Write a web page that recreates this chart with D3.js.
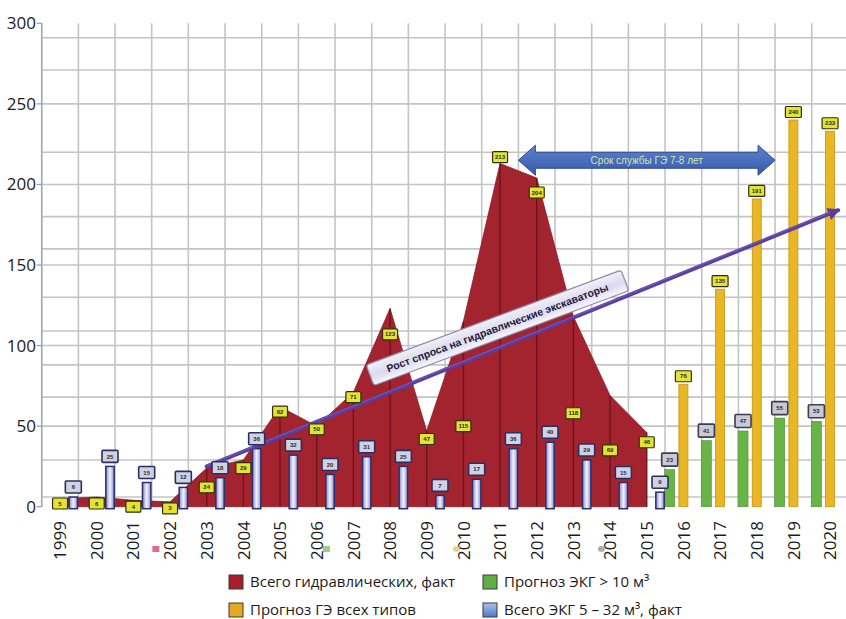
<!DOCTYPE html>
<html>
<head>
<meta charset="utf-8">
<script src="https://cdn.jsdelivr.net/npm/d3@7"></script>
<style>
  html, body { margin: 0; padding: 0; background: #ffffff; }
  svg { display: block; }
</style>
</head>
<body>
<svg id="chart" width="846" height="619"></svg>
<script>
// ---- data ----
const years = [1999, 2000, 2001, 2002, 2003, 2004, 2005, 2006, 2007, 2008, 2009, 2010,
               2011, 2012, 2013, 2014, 2015, 2016, 2017, 2018, 2019, 2020];
const factYears = [1999, 2000, 2001, 2002, 2003, 2004, 2005, 2006, 2007, 2008, 2009, 2010,
                   2011, 2012, 2013, 2014, 2015];
const forecastYears = [2016, 2017, 2018, 2019, 2020];

// Всего гидравлических, факт (area)
const hydraulicFact = [5, 6, 4, 3, 24, 29, 62, 50, 71, 123, 47, 115, 213, 204, 118, 69, 46];
// Всего ЭКГ 5–32 м³, факт (bars)
const ekgFact = [6, 25, 15, 12, 18, 36, 32, 20, 31, 25, 7, 17, 36, 40, 29, 15, 9];
// Прогноз ГЭ всех типов (bars)
const geForecast = [76, 135, 191, 240, 233];
// Прогноз ЭКГ > 10 м³ (bars)
const ekgForecast = [23, 41, 47, 55, 53];

const yTicks = [0, 50, 100, 150, 200, 250, 300];

const legendLabels = ["Всего гидравлических, факт", "Прогноз ЭКГ > 10 м³",
                      "Прогноз ГЭ всех типов", "Всего ЭКГ 5 – 32 м³, факт"];

const trendText = "Рост спроса на гидравлические экскаваторы";
const serviceText = "Срок службы ГЭ 7-8 лет";

// ---- layout ----
const W = 846, H = 619;
const plotTop = 23.3, plotBottom = 506.7, plotLeft = 41.7, plotRight = 848.4;

// where the area's value labels sit (axis units); placed by hand in the source layout
const hydraulicLabelAt = [2, 2, 0, -1, 12, 24, 59, 48, 68, 107, 42, 50, 217, 195, 58, 35, 40];
// background graph-paper lines (axis units)
const paperLines = [6, 29, 50, 68, 88, 100, 109, 130, 150, 160, 180, 200, 220, 250, 271, 291];

const svg = d3.select("#chart");

const x = d3.scaleBand().domain(years).range([plotLeft, plotRight]).padding(0);
const bw = x.bandwidth();
const cx = yr => x(yr) + bw / 2;
const y = d3.scaleLinear().domain([0, 300]).range([plotBottom, plotTop]);

const defs = svg.append("defs");
const blueGrad = defs.append("linearGradient").attr("id", "blueBar")
  .attr("x1", "0%").attr("x2", "100%").attr("y1", "0%").attr("y2", "0%");
blueGrad.append("stop").attr("offset", "0%").attr("stop-color", "#8488cc");
blueGrad.append("stop").attr("offset", "50%").attr("stop-color", "#f3f3fc");
blueGrad.append("stop").attr("offset", "100%").attr("stop-color", "#8a8ed0");

const arrowGrad = defs.append("linearGradient").attr("id", "serviceArrow")
  .attr("x1", "0%").attr("x2", "0%").attr("y1", "0%").attr("y2", "100%");
arrowGrad.append("stop").attr("offset", "0%").attr("stop-color", "#5e83d2");
arrowGrad.append("stop").attr("offset", "100%").attr("stop-color", "#3659a8");

const boxGrad = defs.append("linearGradient").attr("id", "trendBox")
  .attr("x1", "0%").attr("x2", "0%").attr("y1", "0%").attr("y2", "100%");
boxGrad.append("stop").attr("offset", "0%").attr("stop-color", "#f2f1f8");
boxGrad.append("stop").attr("offset", "55%").attr("stop-color", "#dcd8ee");
boxGrad.append("stop").attr("offset", "100%").attr("stop-color", "#f7f7fc");

const legendBlue = defs.append("linearGradient").attr("id", "legendBlue")
  .attr("x1", "0%").attr("x2", "0%").attr("y1", "0%").attr("y2", "100%");
legendBlue.append("stop").attr("offset", "0%").attr("stop-color", "#a9c4ee");
legendBlue.append("stop").attr("offset", "100%").attr("stop-color", "#4d78c8");

defs.append("marker").attr("id", "trendHead")
  .attr("viewBox", "0 0 10 10").attr("refX", 8).attr("refY", 5)
  .attr("markerWidth", 3.2).attr("markerHeight", 3.2).attr("orient", "auto")
  .append("path").attr("d", "M0,0 L10,5 L0,10 Z").attr("fill", "#5a3d9e");

// ---- grid ----
const grid = svg.append("g");
grid.selectAll("line.h").data(paperLines).join("line")
  .attr("x1", plotLeft).attr("x2", plotRight)
  .attr("y1", d => y(d)).attr("y2", d => y(d))
  .attr("stroke", "#c4c4c4").attr("stroke-width", 1.6);
grid.selectAll("line.v").data(years.concat(["end"])).join("line")
  .attr("x1", (d, i) => plotLeft + i * bw).attr("x2", (d, i) => plotLeft + i * bw)
  .attr("y1", plotTop).attr("y2", plotBottom)
  .attr("stroke", "#c4c4c4").attr("stroke-width", 1.6);

// ---- y axis ----
const yAxis = svg.append("g");
yAxis.append("line").attr("x1", plotLeft).attr("x2", plotLeft)
  .attr("y1", plotTop).attr("y2", plotBottom).attr("stroke", "#a8a8a8").attr("stroke-width", 1.4);
yAxis.selectAll("line.t").data(yTicks).join("line")
  .attr("x1", plotLeft - 5).attr("x2", plotLeft)
  .attr("y1", d => y(d)).attr("y2", d => y(d))
  .attr("stroke", "#9a9a9a").attr("stroke-width", 1.2);
yAxis.selectAll("text").data(yTicks).join("text")
  .attr("x", 36).attr("y", d => y(d)).attr("dy", "0.35em")
  .attr("text-anchor", "end")
  .attr("font-family", "Open Sans, sans-serif").attr("font-size", 17)
  .attr("fill", "#1b1b1b").text(d => d);

// ---- red area: всего гидравлических ----
const factData = factYears.map((yr, i) => ({ year: yr, v: hydraulicFact[i], at: hydraulicLabelAt[i] }));
const area = d3.area().x(d => cx(d.year)).y0(y(0)).y1(d => y(d.v));
svg.append("path").datum(factData).attr("d", area)
  .attr("fill", "#a3242f").attr("stroke", "#8e1c26").attr("stroke-width", 0.8);
svg.append("g").selectAll("line").data(factData).join("line")
  .attr("x1", d => cx(d.year)).attr("x2", d => cx(d.year))
  .attr("y1", d => y(d.v)).attr("y2", y(0))
  .attr("stroke", "#5c0f16").attr("stroke-width", 1.4).attr("stroke-opacity", 0.75);

// ---- bars ----
const barW = 9;
const blueOff = 13.3, greenOff = -13.7;
const ekgData = factYears.map((yr, i) => ({ year: yr, v: ekgFact[i] }));
const geData = forecastYears.map((yr, i) => ({ year: yr, v: geForecast[i] }));
const greenData = forecastYears.map((yr, i) => ({ year: yr, v: ekgForecast[i] }));

svg.append("g").selectAll("rect").data(greenData).join("rect")
  .attr("x", d => cx(d.year) + greenOff - 5).attr("width", 10)
  .attr("y", d => y(d.v)).attr("height", d => y(0) - y(d.v))
  .attr("fill", "#69b447").attr("stroke", "#4f8f34").attr("stroke-width", 0.6);

svg.append("g").selectAll("rect").data(geData).join("rect")
  .attr("x", d => cx(d.year) - barW / 2).attr("width", barW)
  .attr("y", d => y(d.v)).attr("height", d => y(0) - y(d.v))
  .attr("fill", "#e9b625").attr("stroke", "#c79410").attr("stroke-width", 0.8);

svg.append("g").selectAll("rect").data(ekgData).join("rect")
  .attr("x", d => cx(d.year) + blueOff - 4.2).attr("width", 8.4)
  .attr("y", d => y(d.v)).attr("height", d => y(0) - y(d.v) + 2)
  .attr("fill", "url(#blueBar)").attr("stroke", "#2d3070").attr("stroke-width", 1.5);

// ---- trend arrow ----
const trendFrom = [cx(2003), y(25)];
const trendTo = [cx(2020) + 0.22 * bw, y(184)];
svg.append("line")
  .attr("x1", trendFrom[0]).attr("y1", trendFrom[1])
  .attr("x2", trendTo[0]).attr("y2", trendTo[1])
  .attr("stroke", "#5a3d9e").attr("stroke-width", 4).attr("stroke-linecap", "round")
  .attr("marker-end", "url(#trendHead)");
svg.append("line")
  .attr("x1", trendFrom[0]).attr("y1", trendFrom[1] - 1)
  .attr("x2", trendTo[0] - 8).attr("y2", trendTo[1] + 2.3)
  .attr("stroke", "#8a6fd0").attr("stroke-width", 1).attr("stroke-opacity", 0.6);

// ---- value labels ----
function labelBox(g, cxp, cyp, w, h, fill, stroke, sw, txt) {
  g.append("rect").attr("x", cxp - w / 2).attr("y", cyp - h / 2)
    .attr("width", w).attr("height", h).attr("rx", 1)
    .attr("fill", fill).attr("stroke", stroke).attr("stroke-width", sw);
  g.append("text").attr("x", cxp).attr("y", cyp).attr("dy", "0.35em")
    .attr("text-anchor", "middle").attr("font-family", "Liberation Sans, Arial, sans-serif")
    .attr("font-size", 6).attr("font-weight", "bold").attr("fill", "#2a2a2a").text(txt);
}
const labels = svg.append("g");
factData.forEach(d => labelBox(labels, cx(d.year), y(d.at), 15, 11, "#e3e332", "#2e2e14", 1.2, d.v));
ekgData.forEach(d => labelBox(labels, cx(d.year) + blueOff, y(d.v) - 10, 16, 12, "#cfd1e4", "#2c2f5e", 1.6, d.v));
greenData.forEach(d => labelBox(labels, cx(d.year) + greenOff, y(d.v) - 10, 16, 13, "#c9cad6", "#3b3d52", 1.6, d.v));
geData.forEach(d => labelBox(labels, cx(d.year), y(d.v) - 8, 16, 11, "#e3e332", "#2e2e14", 1.2, d.v));

// ---- trend caption box ----
const tBoxCx = cx(2011) - 0.07 * bw, tBoxCy = y(111);
const tBox = svg.append("g").attr("transform", `translate(${tBoxCx},${tBoxCy}) rotate(-20.4)`);
tBox.append("rect").attr("x", -136).attr("y", -11).attr("width", 272).attr("height", 22).attr("rx", 3)
  .attr("fill", "url(#trendBox)").attr("stroke", "#8e8ca8").attr("stroke-width", 1.2);
tBox.append("text").attr("x", 0).attr("y", 0).attr("dy", "0.35em").attr("text-anchor", "middle")
  .attr("font-family", "Liberation Sans, Arial, sans-serif").attr("font-size", 10.5)
  .attr("font-weight", "bold").attr("fill", "#1d1d3a").text(trendText);

// ---- service life double arrow ----
const sL = x(2012), sR = x(2019), sY = y(215);
const head = 17, headH = 15, bodyH = 8;
const sPath = d3.path();
sPath.moveTo(sL, sY);
sPath.lineTo(sL + head, sY - headH);
sPath.lineTo(sL + head, sY - bodyH);
sPath.lineTo(sR - head, sY - bodyH);
sPath.lineTo(sR - head, sY - headH);
sPath.lineTo(sR, sY);
sPath.lineTo(sR - head, sY + headH);
sPath.lineTo(sR - head, sY + bodyH);
sPath.lineTo(sL + head, sY + bodyH);
sPath.lineTo(sL + head, sY + headH);
sPath.closePath();
svg.append("path").attr("d", sPath.toString())
  .attr("fill", "url(#serviceArrow)").attr("stroke", "#2d4a8e").attr("stroke-width", 1);
svg.append("text").attr("x", (sL + sR) / 2).attr("y", sY).attr("dy", "0.35em")
  .attr("text-anchor", "middle").attr("font-family", "Liberation Sans, Arial, sans-serif")
  .attr("font-size", 10).attr("fill", "#cfe8a6").text(serviceText);

// ---- x axis labels ----
svg.append("g").selectAll("text").data(years).join("text")
  .attr("transform", d => `translate(${cx(d)},521) rotate(-90)`)
  .attr("text-anchor", "end").attr("dy", "0.36em")
  .attr("font-family", "Open Sans, sans-serif").attr("font-size", 17)
  .attr("fill", "#1b1b1b").text(d => d);

// stray legend key glyphs left along the axis
const strays = [
  { year: 2001, dx: 0.6, color: "#d4466e", r: 0 },
  { year: 2006, dx: 0.25, color: "#86bd6c", r: 0 },
  { year: 2010, dx: -0.2, color: "#e6c574", r: 4 },
  { year: 2014, dx: -0.25, color: "#9a9a9a", r: 4 }
];
svg.append("g").selectAll("rect").data(strays).join("rect")
  .attr("x", d => cx(d.year) + d.dx * bw - 3).attr("y", 546)
  .attr("width", 7).attr("height", 6).attr("rx", d => d.r)
  .attr("fill", d => d.color).attr("opacity", 0.8);

// ---- legend ----
const legendFill = ["#a71d2c", "#5fae45", "#e6a923", "url(#legendBlue)"];
const legendPos = [[229, 575], [483, 575], [229, 603], [483, 603]];
const lg = svg.append("g");
legendLabels.forEach((t, i) => {
  const [lx, ly] = legendPos[i];
  lg.append("rect").attr("x", lx).attr("y", ly).attr("width", 14).attr("height", 14)
    .attr("fill", legendFill[i]).attr("stroke", "#3a3a3a").attr("stroke-width", 1);
  lg.append("text").attr("x", lx + 21).attr("y", ly + 12)
    .attr("font-family", "Open Sans, sans-serif").attr("font-size", 15)
    .attr("fill", "#1b1b1b").text(t);
});
</script>
</body>
</html>
